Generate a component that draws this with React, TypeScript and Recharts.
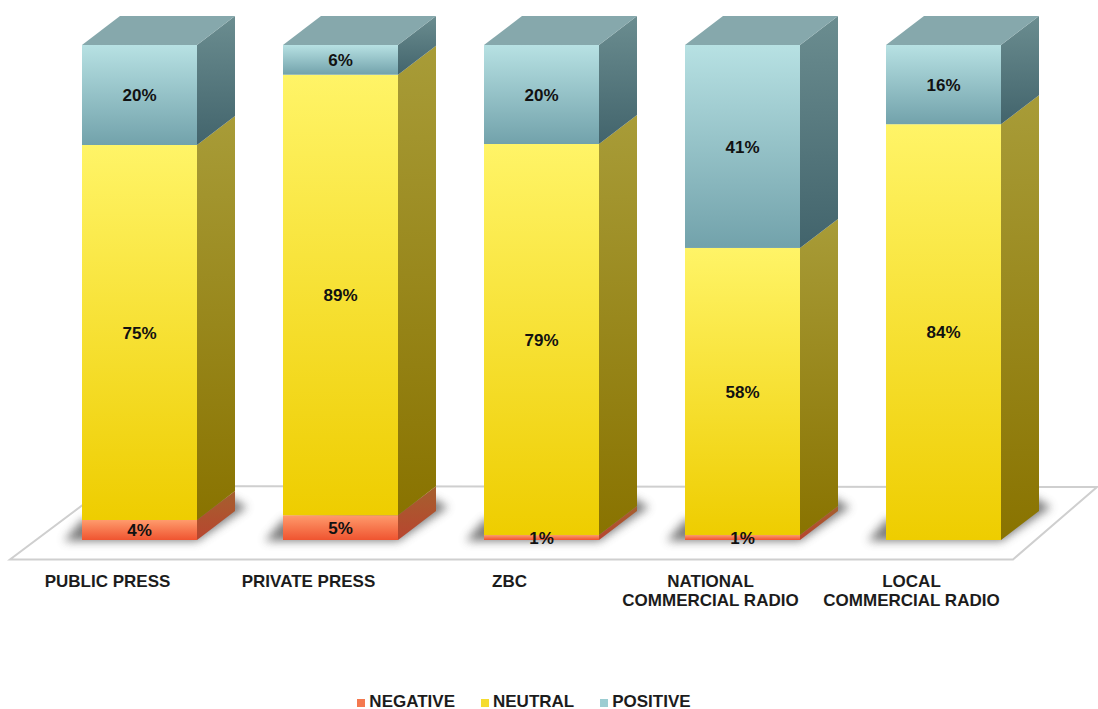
import React from "react"
import { BarChart, Bar, XAxis, YAxis, Legend, LabelList } from "recharts"

const CATEGORIES = [
  "PUBLIC PRESS",
  "PRIVATE PRESS",
  "ZBC",
  "NATIONAL\nCOMMERCIAL RADIO",
  "LOCAL\nCOMMERCIAL RADIO",
]
const NEGATIVE = [4, 5, 1, 1, 0]
const NEUTRAL = [75, 89, 79, 58, 84]
const POSITIVE = [20, 6, 20, 41, 16]

const rows = CATEGORIES.map((name, i) => ({
  name,
  negative: NEGATIVE[i],
  neutral: NEUTRAL[i],
  positive: POSITIVE[i],
}))

const FONT = "'Liberation Sans', Arial, sans-serif"
const WIDTH = 1098
const HEIGHT = 709
const DEPTH_X = 38
const DEPTH_Y = 29

function pts(list: number[][]) {
  return list.map((p) => p.join(",")).join(" ")
}

function gradient(id: string, from: string, to: string) {
  return (
    <linearGradient id={id} x1="0" y1="0" x2="0" y2="1">
      <stop offset="0%" stopColor={from} />
      <stop offset="100%" stopColor={to} />
    </linearGradient>
  )
}

// one stacked segment: front face plus the receding side, optional lid on the top segment
function Block(props: any, kind: string, lid: boolean) {
  const { x, y, width, height } = props
  if (!height || height <= 0) return <g />
  const r = x + width
  const b = y + height
  return (
    <g>
      <polygon
        points={pts([[r, y], [r + DEPTH_X, y - DEPTH_Y], [r + DEPTH_X, b - DEPTH_Y], [r, b]])}
        fill={`url(#${kind}Side)`}
      />
      {lid && (
        <polygon
          points={pts([[x, y], [r, y], [r + DEPTH_X, y - DEPTH_Y], [x + DEPTH_X, y - DEPTH_Y]])}
          fill="#86a8ac"
        />
      )}
      <rect x={x} y={y} width={width} height={height} fill={`url(#${kind}Front)`} />
    </g>
  )
}

// the soft contact shadow goes with the first series so it sits under every block
function NegativeBlock(props: any) {
  const { x, y, width, height } = props
  const r = x + width
  const b = y + height
  return (
    <g>
      <polygon
        points={pts([[x - 18, b + 1], [r, b + 1], [r + 50, b - 33], [r + 30, b - 44], [x, b - 20]])}
        fill="#666"
        opacity={0.85}
        filter="url(#floorShadow)"
      />
      {Block(props, "neg", false)}
    </g>
  )
}

function CategoryTick({ x, y, payload }: any) {
  const lines = String(payload.value).split("\n")
  return (
    <text x={x - 32} y={y + 41} textAnchor="middle" fontFamily={FONT} fontWeight="bold" fontSize={17} fill="#1c1c1c">
      {lines.map((line, i) => (
        <tspan key={line} x={x - 32} dy={i === 0 ? 0 : 19}>
          {line}
        </tspan>
      ))}
    </text>
  )
}

const percent = (v: any) => (v ? `${v}%` : "")
const labelStyle = { fontFamily: FONT, fontWeight: "bold", fontSize: 17, fill: "#111" }

export default function App() {
  return (
    <div style={{ position: "absolute", left: 0, top: 0, width: WIDTH, height: HEIGHT, background: "#fff", overflow: "hidden" }}>
      <BarChart
        width={WIDTH}
        height={HEIGHT}
        data={rows}
        stackOffset="expand"
        barSize={115}
        margin={{ top: 45, right: 54, bottom: 95, left: 39 }}
      >
        <defs>
          {gradient("posFront", "#b7e1e3", "#72a2ab")}
          {gradient("posSide", "#6b8d90", "#42646c")}
          {gradient("neuFront", "#fff467", "#eecd00")}
          {gradient("neuSide", "#a89c38", "#897300")}
          {gradient("negFront", "#ff9b6c", "#ef5430")}
          {gradient("negSide", "#a5602e", "#b8452f")}
          <filter id="floorShadow" x="-30%" y="-60%" width="160%" height="220%">
            <feGaussianBlur stdDeviation="5" />
          </filter>
        </defs>
        <polygon
          points={pts([[10, 559.5], [1013, 559.5], [1097, 487], [108, 486]])}
          fill="#fff"
          stroke="#cfcfcf"
          strokeWidth={2}
        />
        <XAxis
          dataKey="name"
          height={60}
          interval={0}
          axisLine={false}
          tickLine={false}
          tickMargin={0}
          tick={CategoryTick}
        />
        <YAxis hide domain={[0, 1]} />
        <Legend
          verticalAlign="bottom"
          iconType="square"
          iconSize={8}
          wrapperStyle={{ left: -12, width: WIDTH, bottom: 0, fontFamily: FONT, fontWeight: "bold", fontSize: 17, lineHeight: "14px" }}
          formatter={(value: string) => <span style={{ color: "#1c1c1c", marginRight: 16 }}>{value}</span>}
        />
        <Bar dataKey="negative" name="NEGATIVE" stackId="a" fill="#f4794f" isAnimationActive={false} shape={NegativeBlock}>
          <LabelList dataKey="negative" position="center" formatter={percent} style={labelStyle} />
        </Bar>
        <Bar
          dataKey="neutral"
          name="NEUTRAL"
          stackId="a"
          fill="#f5dc30"
          isAnimationActive={false}
          shape={(p: any) => Block(p, "neu", false)}
        >
          <LabelList dataKey="neutral" position="center" formatter={percent} style={labelStyle} />
        </Bar>
        <Bar
          dataKey="positive"
          name="POSITIVE"
          stackId="a"
          fill="#9ccdd2"
          isAnimationActive={false}
          shape={(p: any) => Block(p, "pos", true)}
        >
          <LabelList dataKey="positive" position="center" formatter={percent} style={labelStyle} />
        </Bar>
      </BarChart>
    </div>
  )
}
